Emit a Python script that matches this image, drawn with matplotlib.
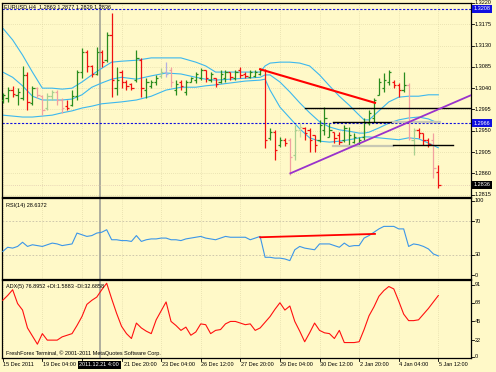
import matplotlib
matplotlib.use('Agg')
import matplotlib.pyplot as plt
import matplotlib.transforms as mtrans
import numpy as np

# ---------------- data ----------------
opens = [1.3015, 1.3019, 1.3036, 1.3026, 1.3019, 1.3068, 1.3009, 1.3040, 1.3023, 1.2998,
         1.3023, 1.3032, 1.3015, 1.3002, 1.3004, 1.3023, 1.3074, 1.3116, 1.3087, 1.3070,
         1.3116, 1.3099, 1.3152, 1.3040, 1.3074, 1.3053, 1.3049, 1.3057, 1.3099, 1.3036,
         1.3045, 1.3053, 1.3065, 1.3074, 1.3078, 1.3036, 1.3053, 1.3032, 1.3053, 1.3057,
         1.3061, 1.3078, 1.3057, 1.3061, 1.3053, 1.3061, 1.3074, 1.3061, 1.3078, 1.3070,
         1.3063, 1.3065, 1.3070, 1.3078, 1.2935, 1.2947, 1.2920, 1.2931, 1.2931, 1.2899,
         1.2952, 1.2956, 1.2952, 1.2941, 1.2931, 1.2952, 1.2937, 1.2947, 1.2941, 1.2931,
         1.2920, 1.2926, 1.2924, 1.2937, 1.2966, 1.2977, 1.3026, 1.3040, 1.3053, 1.3053,
         1.3047, 1.3036, 1.3047, 1.2931, 1.2952, 1.2945, 1.2931, 1.2931, 1.2863]
highs = [1.3030, 1.3042, 1.3045, 1.3040, 1.3087, 1.3074, 1.3045, 1.3042, 1.3026, 1.3030,
         1.3036, 1.3036, 1.3019, 1.3015, 1.3036, 1.3078, 1.3125, 1.3121, 1.3089, 1.3127,
         1.3121, 1.3158, 1.3199, 1.3085, 1.3078, 1.3057, 1.3051, 1.3121, 1.3104, 1.3061,
         1.3057, 1.3068, 1.3082, 1.3095, 1.3085, 1.3057, 1.3057, 1.3057, 1.3063, 1.3074,
         1.3082, 1.3078, 1.3074, 1.3061, 1.3078, 1.3078, 1.3074, 1.3078, 1.3085, 1.3074,
         1.3078, 1.3078, 1.3082, 1.3080, 1.2956, 1.2952, 1.2937, 1.2935, 1.2935, 1.2962,
         1.2966, 1.2958, 1.2956, 1.2941, 1.2973, 1.3000, 1.2966, 1.2947, 1.2947, 1.2962,
         1.2958, 1.2945, 1.2937, 1.2977, 1.2994, 1.3019, 1.3061, 1.3072, 1.3078, 1.3057,
         1.3051, 1.3074, 1.3051, 1.2956, 1.2956, 1.2945, 1.2935, 1.2945, 1.2877]
lows = [1.3009, 1.3011, 1.3021, 1.3004, 1.3015, 1.2994, 1.3004, 1.3019, 1.2983, 1.2994,
        1.3015, 1.3004, 1.2988, 1.2994, 1.3002, 1.3015, 1.3061, 1.3074, 1.3063, 1.3068,
        1.3085, 1.3095, 1.3021, 1.3026, 1.3040, 1.3036, 1.3036, 1.3053, 1.3021, 1.3019,
        1.3040, 1.3047, 1.3061, 1.3063, 1.3042, 1.3026, 1.3036, 1.3026, 1.3053, 1.3051,
        1.3057, 1.3053, 1.3053, 1.3042, 1.3051, 1.3053, 1.3057, 1.3057, 1.3061, 1.3061,
        1.3061, 1.3063, 1.3068, 1.2914, 1.2931, 1.2888, 1.2916, 1.2918, 1.2857, 1.2888,
        1.2937, 1.2931, 1.2905, 1.2905, 1.2926, 1.2941, 1.2937, 1.2924, 1.2920, 1.2926,
        1.2916, 1.2924, 1.2920, 1.2931, 1.2962, 1.2969, 1.3026, 1.3032, 1.3047, 1.3040,
        1.3021, 1.3032, 1.2931, 1.2899, 1.2935, 1.2920, 1.2916, 1.2850, 1.2829]
closes = [1.3026, 1.3036, 1.3028, 1.3032, 1.3068, 1.3011, 1.3040, 1.3026, 1.2994, 1.3023,
          1.3032, 1.3015, 1.2998, 1.2998, 1.3023, 1.3074, 1.3116, 1.3087, 1.3070, 1.3116,
          1.3095, 1.3152, 1.3057, 1.3057, 1.3053, 1.3045, 1.3040, 1.3104, 1.3040, 1.3053,
          1.3053, 1.3061, 1.3074, 1.3070, 1.3053, 1.3049, 1.3045, 1.3053, 1.3061, 1.3070,
          1.3078, 1.3061, 1.3070, 1.3049, 1.3070, 1.3074, 1.3063, 1.3074, 1.3068, 1.3065,
          1.3074, 1.3074, 1.3078, 1.2931, 1.2947, 1.2910, 1.2931, 1.2924, 1.2895, 1.2952,
          1.2958, 1.2945, 1.2931, 1.2920, 1.2962, 1.2977, 1.2952, 1.2935, 1.2926, 1.2956,
          1.2941, 1.2937, 1.2931, 1.2969, 1.2988, 1.3015, 1.3053, 1.3057, 1.3074, 1.3047,
          1.3036, 1.3047, 1.2935, 1.2952, 1.2945, 1.2931, 1.2922, 1.2872, 1.2836]

bb_idx = [0, 2, 4, 6, 8, 10, 12, 14, 16, 18, 20, 22, 24, 27, 30, 33, 36, 39, 41, 43, 46, 49,
          52, 53, 54, 56, 58, 60, 62, 64, 66, 68, 70, 72, 73, 74, 76, 78, 80, 82, 84, 86, 88]
bb_upper = [1.3167, 1.3142, 1.3110, 1.3074, 1.3040, 1.3040, 1.3038, 1.3040, 1.3053, 1.3068,
            1.3082, 1.3095, 1.3097, 1.3099, 1.3104, 1.3104, 1.3104, 1.3095, 1.3087, 1.3074,
            1.3074, 1.3074, 1.3074, 1.3087, 1.3093, 1.3095, 1.3095, 1.3093, 1.3087, 1.3068,
            1.3045, 1.3023, 1.3004, 1.2983, 1.2973, 1.2973, 1.2992, 1.3011, 1.3021, 1.3023,
            1.3023, 1.3026, 1.3026]
bb_middle = [1.3074, 1.3063, 1.3045, 1.3023, 1.3015, 1.3015, 1.3015, 1.3017, 1.3026, 1.3042,
             1.3051, 1.3059, 1.3063, 1.3059, 1.3066, 1.3072, 1.3070, 1.3063, 1.3059, 1.3057,
             1.3059, 1.3061, 1.3063, 1.3068, 1.3068, 1.3053, 1.3032, 1.3009, 1.2988, 1.2969,
             1.2958, 1.2952, 1.2949, 1.2945, 1.2945, 1.2947, 1.2956, 1.2966, 1.2973, 1.2977,
             1.2979, 1.2975, 1.2966]
bb_lower = [1.2983, 1.2981, 1.2979, 1.2979, 1.2981, 1.2983, 1.2988, 1.2992, 1.2998, 1.3002,
            1.3007, 1.3009, 1.3011, 1.3015, 1.3023, 1.3036, 1.3042, 1.3042, 1.3045, 1.3047,
            1.3051, 1.3055, 1.3057, 1.3059, 1.3036, 1.3000, 1.2977, 1.2954, 1.2935, 1.2928,
            1.2926, 1.2928, 1.2931, 1.2935, 1.2937, 1.2937, 1.2935, 1.2933, 1.2931, 1.2935,
            1.2933, 1.2924, 1.2914]

rsi = [34, 39, 38, 40, 45, 40, 42, 41, 40, 42, 44, 43, 41, 42, 43, 56, 54, 52, 53, 56,
       57, 60, 48, 48, 47, 47, 46, 53, 46, 48, 49, 49, 50, 50, 48, 48, 47, 49, 50, 51,
       52, 50, 49, 48, 50, 52, 51, 51, 51, 51, 48, 50, 52, 27, 27, 26, 26, 25, 23, 36,
       40, 38, 37, 36, 43, 43, 43, 41, 39, 44, 40, 41, 41, 50, 53, 57, 61, 64, 64, 64,
       61, 61, 40, 43, 42, 40, 37, 31, 28.6372]
adx = [71, 77, 84, 67, 59, 37, 27, 17, 30, 22, 22, 22, 26, 28, 30, 40, 51, 66, 71, 75,
       84, 92, 73, 55, 39, 30, 24, 43, 37, 33, 30, 47, 58, 69, 45, 40, 34, 38, 28, 32,
       42, 41, 30, 34, 35, 42, 45, 45, 43, 41, 42, 34, 37, 44, 51, 60, 68, 59, 64, 45,
       33, 20, 31, 43, 34, 31, 30, 24, 34, 19, 19, 19, 20, 35, 52, 63, 76, 83, 88, 85,
       70, 54, 46, 46, 47, 54, 61, 69, 76.8952]

price_ticks = [1.3220, 1.3175, 1.3130, 1.3085, 1.3040, 1.2995, 1.2950, 1.2905, 1.2860, 1.2815]
rsi_ticks = [100, 70, 30, 0]
adx_ticks = [91, 68, 45, 22, 0]
time_tick_idx = [0, 8, 24, 32, 40, 48, 56, 64, 72, 80, 88]
time_labels = ['15 Dec 2011', '19 Dec 04:00', '21 Dec 20:00', '23 Dec 04:00',
               '26 Dec 12:00', '27 Dec 20:00', '29 Dec 04:00', '30 Dec 12:00', '2 Jan 20:00',
               '4 Jan 04:00', '5 Jan 12:00']
grid_idx = [0, 8, 16, 24, 32, 40, 48, 56, 64, 72, 80, 88]

red_trend = ([52, 75.2], [1.3080, 1.3009])
purple_trend = ([58.1, 97.0], [1.2860, 1.3036])
rsi_trend = ([52, 75.2], [51, 55])
level_lines = [(61, 96, 1.2998, 'k'), (66.7, 78.9, 1.2969, 'k'), (78.9, 88.3, 1.2969, 'g'),
               (66.7, 78.9, 1.2918, 'g'), (78.9, 91, 1.2920, 'k')]
blue_levels = [1.3208, 1.2966]
last_price = 1.2836
cross_idx = 19.7

# ---------------- style ----------------
BG = '#FFF9C8'
GREEN = '#2A8C1E'
RED = '#F01010'
faded = {7: '#F2A0A0', 8: '#F2A0A0', 9: '#A8D090', 10: '#A8D090', 11: '#F2A0A0', 12: '#F2A0A0',
         32: '#A8D090', 33: '#B4B0E0', 34: '#F2A0A0', 58: '#F2A0A0', 59: '#A8D090',
         60: '#C8D8A0', 82: '#F2A0A0', 83: '#A8D090', 87: '#F2A0A0'}
FS = 4.0
plt.rcParams['font.family'] = ['Liberation Sans', 'DejaVu Sans']

W, H = 496, 372
fig = plt.figure(figsize=(W / 100, H / 100), dpi=100, facecolor=BG)

def rect(top, bottom):
    return [2 / W, 1 - bottom / H, 469 / W, (bottom - top) / H]

ax = fig.add_axes(rect(3, 197))
ax_r = fig.add_axes(rect(198, 279), sharex=ax)
ax_a = fig.add_axes(rect(280, 358), sharex=ax)

n = len(closes)
idx = np.arange(n)
XL = (-0.15, 94.6)

for a in (ax, ax_r, ax_a):
    a.set_facecolor(BG)
    for s in a.spines.values():
        s.set_color('black')
        s.set_linewidth(0.9)
    a.tick_params(axis='both', which='both', length=0, labelbottom=False, labelleft=False,
                  labelright=False)
    a.set_xlim(*XL)
    for t in grid_idx:
        a.axvline(t, color='#D8D0A0', lw=0.5, ls=(0, (1, 2)), zorder=0)
    a.axvline(cross_idx, color='#A8A89A', lw=1.3, zorder=1)

# ----- main price panel -----
ax.set_ylim(1.2810, 1.3220)
for p in price_ticks:
    ax.axhline(p, color='#D8D0A0', lw=0.5, ls=(0, (1, 2)), zorder=0)

bt = mtrans.blended_transform_factory(ax.transAxes, ax.transData)
for p in price_ticks:
    ax.plot([1.0, 1.006], [p, p], color='black', lw=0.6, transform=bt, clip_on=False)
    ax.text(1.008, p, f'{p:.4f}', transform=bt, fontsize=FS, va='center', ha='left')

ax.plot(bb_idx, bb_upper, color='#3CB8EE', lw=0.8, zorder=2)
ax.plot(bb_idx, bb_middle, color='#3CB8EE', lw=0.8, zorder=2)
ax.plot(bb_idx, bb_lower, color='#3CB8EE', lw=0.8, zorder=2)

cols = []
for i in range(n):
    c = GREEN if closes[i] >= opens[i] else RED
    cols.append(faded.get(i, c))
ax.vlines(idx, lows, highs, colors=cols, lw=0.9, zorder=3)
ax.hlines(opens, idx - 0.45, idx, colors=cols, lw=0.9, zorder=3)
ax.hlines(closes, idx, idx + 0.45, colors=cols, lw=0.9, zorder=3)

for lv in blue_levels:
    ax.axhline(lv, color='#1010E0', lw=0.8, ls=(0, (2.0, 1.5)), zorder=2)
ax.axhline(last_price, color='#E0C8B0', lw=0.6, ls=(0, (1, 1.5)), zorder=1)

for x0, x1, lv, c in level_lines:
    if c == 'k':
        ax.plot([x0, x1], [lv, lv], color='black', lw=1.0, zorder=4)
    else:
        ax.plot([x0, x1], [lv, lv], color='#C8C8B4', lw=1.6, zorder=4)

ax.plot(red_trend[0], red_trend[1], color='#FF0000', lw=1.5, zorder=5)
ax.plot(purple_trend[0], purple_trend[1], color='#9932CC', lw=1.3, zorder=5)

ax.text(0.004, 0.993, 'EURUSD,H4  1.2863 1.2877 1.2829 1.2836', transform=ax.transAxes,
        fontsize=FS, va='top', ha='left')

for lv, bg in ((1.3208, '#1010E0'), (1.2966, '#1010E0'), (last_price, '#000000')):
    ax.text(1.006, lv, f'{lv:.4f}', transform=bt, fontsize=FS, va='center', ha='left',
            color='white', zorder=10,
            bbox=dict(boxstyle='square,pad=0.25', facecolor=bg, edgecolor='none'))

# ----- RSI panel -----
ax_r.set_ylim(1, 98)
for lv in (70, 30):
    ax_r.axhline(lv, color='#C8C0A8', lw=0.6, ls=(0, (2, 2)), zorder=0)
ax_r.plot(idx, rsi, color='#3C96E8', lw=0.8, zorder=3)
ax_r.plot(rsi_trend[0], rsi_trend[1], color='#FF0000', lw=1.3, zorder=4)
ax_r.text(0.008, 0.94, f'RSI(14) {rsi[-1]:.4f}', transform=ax_r.transAxes, fontsize=FS,
          va='top', ha='left')
btr = mtrans.blended_transform_factory(ax_r.transAxes, ax_r.transData)
rsi_label_pos = {100: 94.5, 70: 70, 30: 30, 0: 5.5}
for v in rsi_ticks:
    ax_r.text(1.008, rsi_label_pos[v], f'{v}', transform=btr, fontsize=FS, va='center', ha='left')
    ax_r.plot([1.0, 1.006], [rsi_label_pos[v]] * 2, color='black', lw=0.6, transform=btr,
              clip_on=False)

# ----- ADX panel -----
ax_a.set_ylim(0, 96)
ax_a.plot(idx, adx, color='#FF1010', lw=0.8, zorder=3)
ax_a.text(0.008, 0.95, 'ADX(5) 76.8952 +DI:1.5883 -DI:32.6858', transform=ax_a.transAxes,
          fontsize=FS, va='top', ha='left')
ax_a.text(0.008, 0.03, 'FreshForex Terminal, \u00a9 2001-2011 MetaQuotes Software Corp.',
          transform=ax_a.transAxes, fontsize=FS, va='bottom', ha='left')
bta = mtrans.blended_transform_factory(ax_a.transAxes, ax_a.transData)
adx_label_pos = {91: 90, 68: 68, 45: 45, 22: 22, 0: 1.5}
for v in adx_ticks:
    ax_a.text(1.008, adx_label_pos[v], f'{v}', transform=bta, fontsize=FS, va='center', ha='left')
    ax_a.plot([1.0, 1.006], [adx_label_pos[v]] * 2, color='black', lw=0.6, transform=bta,
              clip_on=False)

# time axis
btx = mtrans.blended_transform_factory(ax_a.transData, fig.transFigure)
for t in grid_idx:
    ax_a.plot([t, t], [1 - 358 / H, 1 - 361 / H], color='black', lw=0.6, transform=btx,
              clip_on=False)
for t, lab in zip(time_tick_idx, time_labels):
    off = 0.45 if t == 24 else 0.1
    ax_a.text(t + off, 1 - 365 / H, lab, transform=btx, fontsize=FS, va='center', ha='left')
ax_a.text(cross_idx - 0.2, 1 - 365 / H, '2011.12.21 4:00', transform=btx, fontsize=FS,
          va='center', ha='center', color='white', zorder=10,
          bbox=dict(boxstyle='square,pad=0.25', facecolor='black', edgecolor='none'))

fig.savefig('out.png', dpi=100, facecolor=BG)
